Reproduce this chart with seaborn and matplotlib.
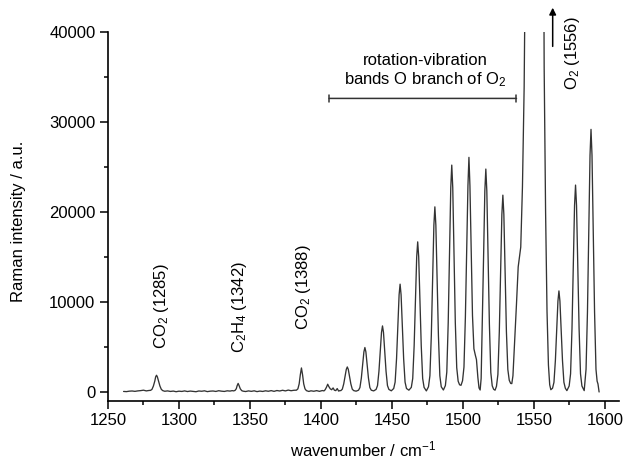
import numpy as np
import pandas as pd
import matplotlib
matplotlib.use("Agg")
import matplotlib.pyplot as plt
import seaborn as sns

# spectrum (wavenumber in cm-1, intensity in a.u.)
wavenumber = [
    1261, 1263, 1265, 1267, 1269, 1271, 1273, 1275, 1277, 1279,
    1280.0, 1281.0, 1282.0, 1283.0, 1283.6, 1284.2, 1284.8, 1285.6, 1286.6, 1287.6, 1288.6,   # CO2 1285
    1290, 1292, 1294, 1296, 1298, 1300, 1302, 1304, 1306, 1308, 1310, 1312, 1314, 1316,
    1318, 1320, 1322, 1324, 1326, 1328, 1330, 1332, 1334, 1336, 1337.5,
    1338.5, 1339.5, 1340.4, 1341.0, 1341.7, 1342.4, 1343.2, 1344.2, 1345.2,                   # C2H4 1342
    1347, 1349, 1351, 1353, 1355, 1357, 1359, 1361, 1363, 1365, 1367, 1369, 1371, 1373,
    1375, 1377, 1379, 1381,
    1382.8, 1383.8, 1384.7, 1385.5, 1386.3, 1387.1, 1387.9, 1388.8, 1389.8,                   # CO2 1388
    1391.5, 1393, 1395, 1397, 1399, 1401, 1402.2,
    1403.0, 1404.0, 1404.8, 1405.6, 1406.6, 1407.6, 1408.6, 1409.5, 1410.5, 1411.5, 1412.5, 1413.3,
    1414.1, 1415.1, 1416.1, 1417.1, 1417.9, 1418.6, 1419.3, 1420.1, 1421.1, 1422.1, 1423.1,
    1424.8,
    1426.5, 1427.5, 1428.5, 1429.5, 1430.3, 1431.0, 1431.7, 1432.5, 1433.5, 1434.5, 1435.5,
    1437.2,
    1438.9, 1439.9, 1440.9, 1441.9, 1442.7, 1443.4, 1444.1, 1444.9, 1445.9, 1446.9, 1447.9,
    1449.6,
    1451.3, 1452.3, 1453.3, 1454.3, 1455.1, 1455.8, 1456.5, 1457.3, 1458.3, 1459.3, 1460.3,
    1462.0,
    1463.7, 1464.7, 1465.7, 1466.7, 1467.5, 1468.2, 1468.9, 1469.7, 1470.7, 1471.7, 1472.7,
    1474.3,
    1475.8, 1476.8, 1477.8, 1478.8, 1479.6, 1480.3, 1481.0, 1481.8, 1482.8, 1483.8, 1484.8,
    1486.3,
    1487.7, 1488.7, 1489.7, 1490.7, 1491.5, 1492.2, 1492.9, 1493.7, 1494.7, 1495.7, 1496.7,
    1497.7, 1498.7,
    1499.8, 1500.8, 1501.8, 1502.8, 1503.6, 1504.3, 1505.0, 1505.8, 1506.8, 1507.8, 1508.8,
    1509.6, 1510.6, 1511.4, 1512.2,
    1512.9, 1513.7, 1514.7, 1515.5, 1516.2, 1516.9, 1517.7, 1518.7, 1519.7, 1520.7,
    1521.7, 1522.7,
    1523.7, 1524.7, 1525.7, 1526.7, 1527.5, 1528.2, 1528.9, 1529.7, 1530.7, 1531.7, 1532.7,
    1533.7, 1534.5,
    1535.3, 1536.1, 1537.0, 1537.8, 1539.0, 1540.8, 1542.0, 1543.2, 1544.0,
    1550.5,                                                                                     # O2 1556, off scale
    1557.3, 1558.3, 1559.3, 1560.3, 1561.2, 1562.0,
    1563.2, 1564.2, 1565.2, 1566.2, 1567.0, 1567.7, 1568.4, 1569.2, 1570.2, 1571.2, 1572.2, 1573.3,
    1574.9, 1575.9, 1576.9, 1577.9, 1578.7, 1579.4, 1580.1, 1580.9, 1581.9, 1582.9, 1583.9, 1585.5,
    1586.8, 1587.8, 1588.8, 1589.6, 1590.3, 1591.0, 1591.8, 1592.8, 1593.8, 1594.6, 1595.2, 1596.0,
]
intensity = [
    60, 40, 90, 110, 70, 120, 150, 200, 120, 170,
    180, 290, 660, 1220, 1680, 1860, 1680, 1220, 660, 290, 150,
    80, 120, 60, 100, 30, 90, 60, 120, 50, 100, 60, 30, 110, 80,
    130, 40, 90, 110, 60, 140, 90, 60, 130, 100, 150,
    120, 170, 360, 700, 950, 700, 360, 150, 90,
    50, 120, 70, 130, 40, 100, 60, 130, 80, 150, 70, 160, 110, 190,
    120, 210, 140, 190,
    200, 350, 900, 1900, 2670, 1900, 900, 350, 150,
    60, 130, 80, 150, 70, 160, 120,
    250, 550, 860, 600, 350, 250, 450, 200, 150, 380, 100, 150,
    154, 314, 904, 1788, 2512, 2780, 2512, 1788, 904, 314, 154,
    90,
    197, 487, 1552, 3149, 4456, 4940, 4456, 3149, 1552, 487, 197,
    120,
    284, 716, 2300, 4676, 6620, 7340, 6620, 4676, 2300, 716, 284,
    130,
    387, 1096, 3699, 7603, 10797, 11980, 10797, 7603, 3699, 1096, 387,
    200,
    510, 1500, 5130, 10575, 15030, 16680, 15030, 10575, 5130, 1500, 510,
    120,
    578, 1802, 6290, 13022, 18530, 20570, 18530, 13022, 6290, 1802, 578,
    220,
    710, 2210, 7710, 15960, 22710, 25210, 22710, 15960, 7710, 2700, 1200,
    800, 740,
    1250, 2770, 8340, 16690, 22920, 26070, 22920, 16690, 8500, 4800, 4100,
    3600, 1600, 450, 220,
    1500, 7580, 15700, 22340, 24770, 22340, 15700, 7580, 2170, 690,
    300, 200,
    630, 1940, 6710, 13870, 19730, 21870, 19730, 13870, 6710, 2500, 1300,
    950, 930,
    1800, 4300, 7000, 9800, 13900, 16100, 22800, 33900, 48000,
    300000,
    36000, 20000, 9000, 3000, 800, 250,
    420, 1080, 3500, 7130, 10100, 11230, 10100, 7130, 3500, 1080, 420, 150,
    660, 2020, 7040, 14560, 20720, 22990, 20720, 14560, 7040, 2020, 660, 150,
    2520, 8900, 18470, 26300, 29180, 26300, 18470, 8900, 2520, 1200, 900, 0,
]

# peak labels and where their bottom ends sit
peak_labels = ["CO$_\\mathregular{2}$ (1285)", "C$_\\mathregular{2}$H$_\\mathregular{4}$ (1342)",
               "CO$_\\mathregular{2}$ (1388)", "O$_\\mathregular{2}$ (1556)"]
label_x = [1287.5, 1342.7, 1387.7, 1577]
label_y = [4800, 4300, 6900, 33600]

df = pd.DataFrame({"wavenumber": wavenumber, "intensity": intensity})

sns.set_style("ticks")
plt.rcParams["font.family"] = ["Liberation Sans", "DejaVu Sans"]
plt.rcParams["mathtext.fontset"] = "custom"
plt.rcParams["mathtext.rm"] = "Liberation Sans"
plt.rcParams["mathtext.it"] = "Liberation Sans:italic"
plt.rcParams["mathtext.bf"] = "Liberation Sans:bold"
plt.rcParams["text.color"] = "black"
plt.rcParams["axes.labelcolor"] = "black"
plt.rcParams["xtick.color"] = "black"
plt.rcParams["ytick.color"] = "black"

fig = plt.figure(figsize=(6.27, 4.61), dpi=100)
ax = fig.add_axes([0.1722, 0.1302, 0.8150, 0.8004])

sns.lineplot(data=df, x="wavenumber", y="intensity", ax=ax, color="#333333",
             linewidth=0.95, estimator=None, sort=False)

ax.set_xlim(1250, 1610)
ax.set_ylim(-1000, 40000)
ax.set_xticks(np.arange(1250, 1601, 50))
ax.set_xticks(np.arange(1275, 1610, 50), minor=True)
ax.set_yticks(np.arange(0, 40001, 10000))
ax.set_yticks(np.arange(5000, 40000, 10000), minor=True)
ax.tick_params(which="major", direction="out", length=5.5, width=1.1, labelsize=12,
               color="black", labelcolor="black")
ax.tick_params(which="minor", direction="out", length=3, width=1.1, color="black")

for s in ["top", "right"]:
    ax.spines[s].set_visible(False)
for s in ["left", "bottom"]:
    ax.spines[s].set_linewidth(1.2)
    ax.spines[s].set_color("black")

ax.set_xlabel("wavenumber / cm$^\\mathregular{-1}$", fontsize=12)
ax.set_ylabel("Raman intensity / a.u.", fontsize=12)
ax.xaxis.set_label_coords(0.5, -0.105)
ax.yaxis.set_label_coords(-0.16, 0.486)

for t, x, y in zip(peak_labels, label_x, label_y):
    ax.text(x, y, t, rotation=90, ha="center", va="bottom", fontsize=12)

# arrow for the off-scale O2 line
ax.annotate("", xy=(1563.3, 42700), xytext=(1563.3, 38400), annotation_clip=False,
            arrowprops=dict(arrowstyle="-|>", color="black", lw=1.1, shrinkA=0, shrinkB=0,
                            mutation_scale=10))

# bracket for the O branch
ax.annotate("", xy=(1405.8, 32620), xytext=(1537.8, 32620),
            arrowprops=dict(arrowstyle="|-|, widthA=0.25, widthB=0.25", color="#333333",
                            lw=1.1, shrinkA=0, shrinkB=0))
ax.text(1473.6, 35700, "rotation-vibration\nbands O branch of O$_\\mathregular{2}$",
        ha="center", va="center", multialignment="center", fontsize=12, linespacing=1.15)

plt.savefig("out.png", dpi=100)
